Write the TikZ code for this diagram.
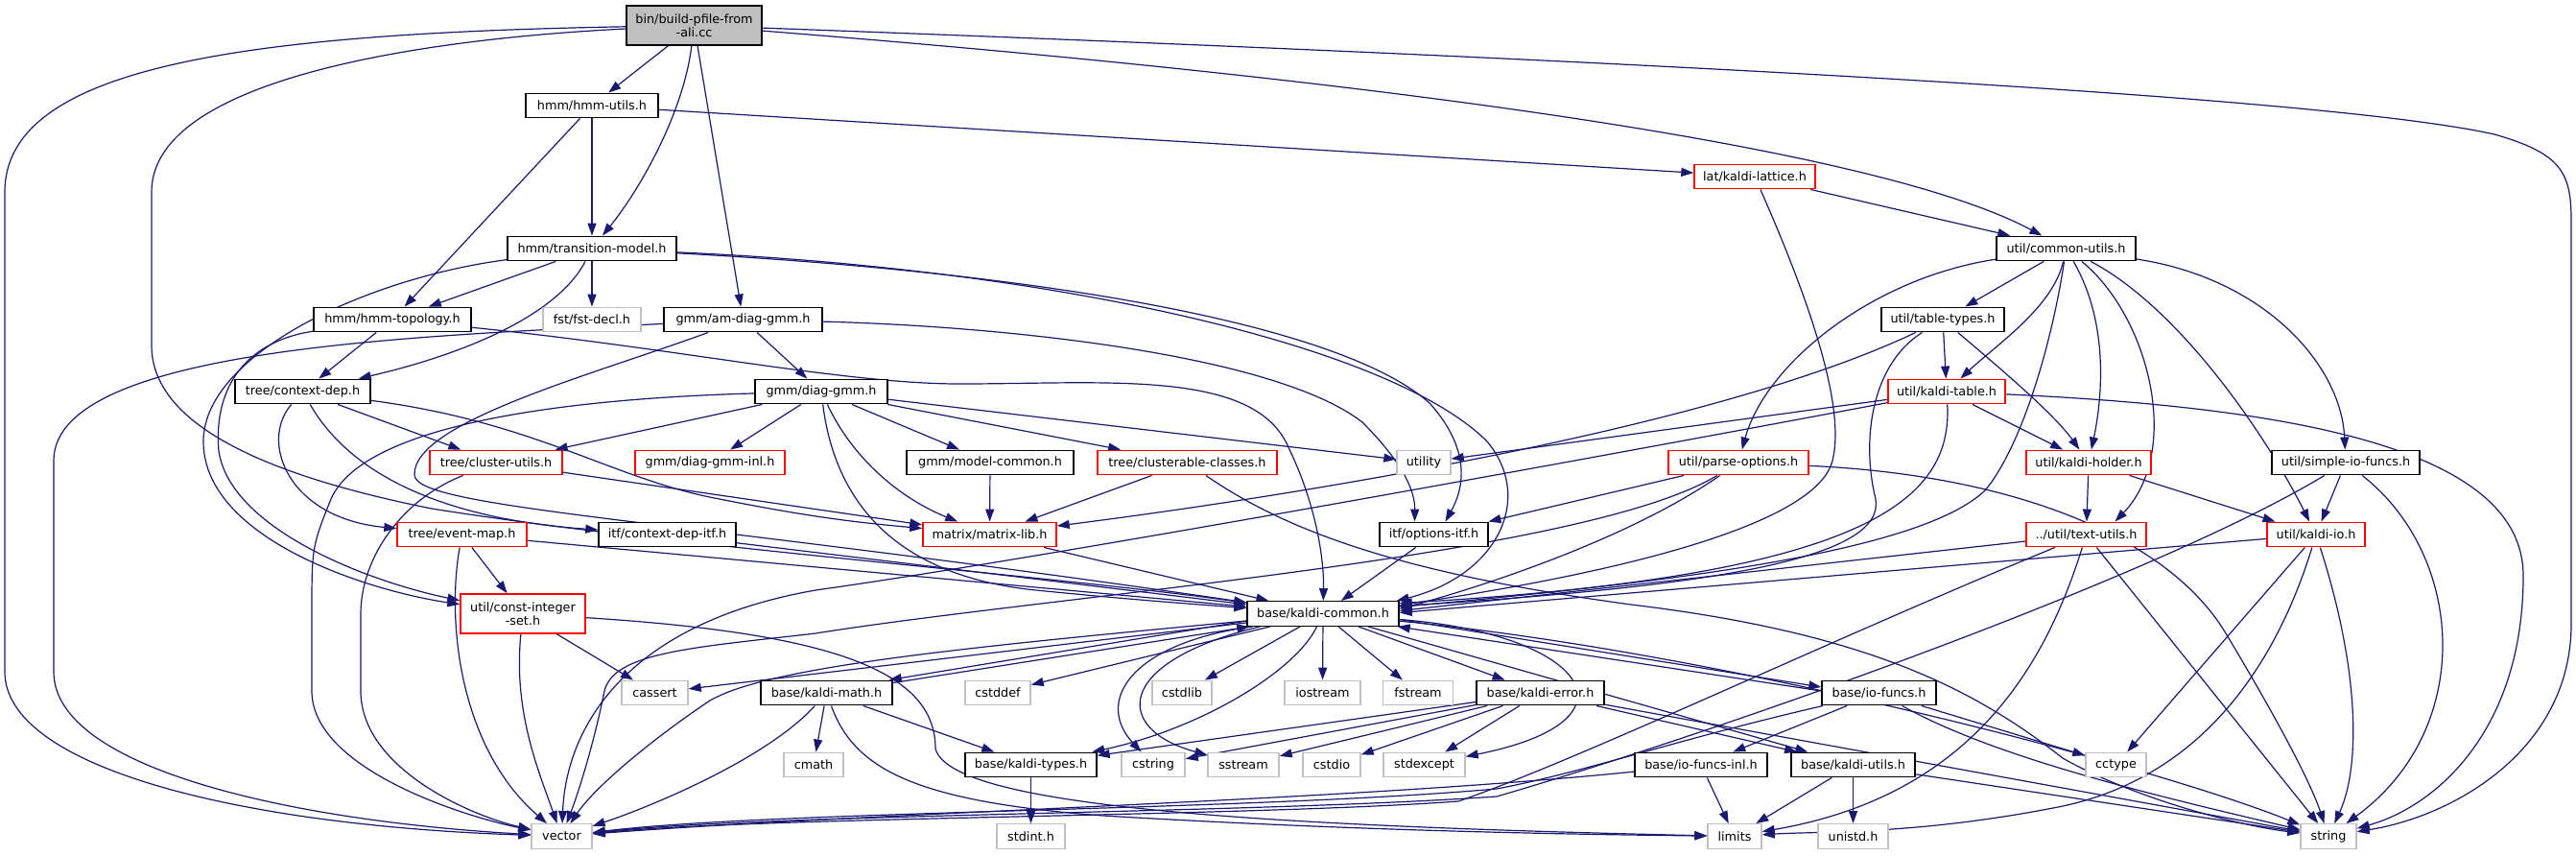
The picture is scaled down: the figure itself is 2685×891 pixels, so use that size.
\documentclass[tikz,border=0pt]{standalone}
\usepackage{fontspec}
\setmainfont{DejaVu Sans}
\usetikzlibrary{arrows.meta,calc}
\definecolor{edgec}{HTML}{191970}
\definecolor{grayb}{HTML}{BFBFBF}
\pgfdeclarelayer{bg}
\pgfsetlayers{bg,main}
\begin{document}
\begin{tikzpicture}[x=0.5pt,y=-0.5pt,
  box/.style={rectangle, fill=white, line width=0.7pt, inner sep=1pt, minimum height=12.75pt, font=\fontsize{6.4}{7.2}\selectfont, align=center, text=black},
  nb/.style={box, draw=black},
  nr/.style={box, draw=red},
  ng/.style={box, draw=grayb},
  dep/.style={draw=edgec, line width=0.6pt, -{Triangle[length=6.5pt,width=4.5pt]}},
]
\useasboundingbox (0,0) rectangle (2685,891);
% nodes
\node[nb, fill=grayb, minimum width=70.5pt, minimum height=20.5pt] (bin) at (723.5,26.5) {bin/build-pfile-from\\-ali.cc};
\node[nb, minimum width=69pt] (hmmutils) at (617,110) {hmm/hmm-utils.h};
\node[nr, minimum width=63pt] (lattice) at (1829,184) {lat/kaldi-lattice.h};
\node[nb, minimum width=72.5pt] (common) at (2153.5,259) {util/common-utils.h};
\node[nb, minimum width=88pt] (transition) at (617,259) {hmm/transition-model.h};
\node[nb, minimum width=82pt] (topology) at (409,333) {hmm/hmm-topology.h};
\node[ng, minimum width=51pt] (fstdecl) at (617,333) {fst/fst-decl.h};
\node[nb, minimum width=82.5pt] (amdiag) at (774.5,333) {gmm/am-diag-gmm.h};
\node[nb, minimum width=64pt] (tabletypes) at (2025,333) {util/table-types.h};
\node[nb, minimum width=70.5pt] (contextdep) at (315.5,408) {tree/context-dep.h};
\node[nb, minimum width=69pt] (diaggmm) at (856,408) {gmm/diag-gmm.h};
\node[nr, minimum width=61pt] (kalditable) at (2029,408) {util/kaldi-table.h};
\node[nr, minimum width=69pt] (clusterutils) at (517,482) {tree/cluster-utils.h};
\node[nr, minimum width=78pt] (diaggmminl) at (740,482) {gmm/diag-gmm-inl.h};
\node[nb, minimum width=87pt] (modelcommon) at (1032,482) {gmm/model-common.h};
\node[nr, minimum width=93.5pt] (clusterable) at (1237.5,482) {tree/clusterable-classes.h};
\node[ng, minimum width=28pt] (utility) at (1484,482) {utility};
\node[nr, minimum width=73pt] (parseoptions) at (1812,482) {util/parse-options.h};
\node[nr, minimum width=65pt] (kaldiholder) at (2177,482) {util/kaldi-holder.h};
\node[nb, minimum width=77pt] (simpleio) at (2445,482) {util/simple-io-funcs.h};
\node[nr, minimum width=67.5pt] (eventmap) at (481.5,557) {tree/event-map.h};
\node[nb, minimum width=71.5pt] (contextdepitf) at (695.5,557) {itf/context-dep-itf.h};
\node[nr, minimum width=69.5pt] (matrixlib) at (1031.5,557) {matrix/matrix-lib.h};
\node[nb, minimum width=56.5pt] (optionsitf) at (1494.5,557) {itf/options-itf.h};
\node[nr, minimum width=62.5pt] (textutils) at (2174.5,557) {../util/text-utils.h};
\node[nr, minimum width=51pt] (kaldiio) at (2414,557) {util/kaldi-io.h};
\node[nr, minimum width=65pt, minimum height=20.5pt] (constint) at (545,639.5) {util/const-integer\\-set.h};
\node[nb, minimum width=79pt] (kaldicommon) at (1379,639.5) {base/kaldi-common.h};
\node[ng, minimum width=34.5pt] (cassert) at (682.5,722) {cassert};
\node[nb, minimum width=68.5pt] (kaldimath) at (861.5,722) {base/kaldi-math.h};
\node[ng, minimum width=34pt] (cstddef) at (1040,722) {cstddef};
\node[ng, minimum width=31pt] (cstdlib) at (1232,722) {cstdlib};
\node[ng, minimum width=39.5pt] (iostream) at (1378.5,722) {iostream};
\node[ng, minimum width=36.5pt] (fstream) at (1478,722) {fstream};
\node[nb, minimum width=66.5pt] (kaldierror) at (1605.5,722) {base/kaldi-error.h};
\node[nb, minimum width=59.5pt] (iofuncs) at (1958.5,722) {base/io-funcs.h};
\node[nb, minimum width=68.5pt] (kalditypes) at (1074.5,797) {base/kaldi-types.h};
\node[ng, minimum width=33pt] (cstring) at (1202,797) {cstring};
\node[ng, minimum width=37pt] (sstream) at (1296,797) {sstream};
\node[ng, minimum width=30pt] (cstdio) at (1388,797) {cstdio};
\node[ng, minimum width=42.5pt] (stdexcept) at (1484.5,797) {stdexcept};
\node[nb, minimum width=69pt] (iofuncsinl) at (1773,797) {base/io-funcs-inl.h};
\node[nb, minimum width=64.5pt] (kaldiutils) at (1931.5,797) {base/kaldi-utils.h};
\node[ng, minimum width=31.5pt] (cctype) at (2205.5,797) {cctype};
\node[ng, minimum width=31pt] (cmath) at (848,797) {cmath};
\node[ng, minimum width=31.5pt] (vector) at (585.5,871.5) {vector};
\node[ng, minimum width=35.5pt] (stdint) at (1074.5,871.5) {stdint.h};
\node[ng, minimum width=28pt] (limits) at (1808,871.5) {limits};
\node[ng, minimum width=36.5pt] (unistd) at (1931.5,871.5) {unistd.h};
\node[ng, minimum width=29pt] (string) at (2427,871.5) {string};

\begin{pgfonlayer}{bg}
\fill[white] (0,0) rectangle (2685,891);
% bin
\draw[dep] (bin) -- (hmmutils);
\draw[dep] (bin) .. controls (712,120) and (665,200) .. (transition);
\draw[dep] (bin) -- (amdiag);
\draw[dep] (bin) .. controls (1400,80) and (1950,150) .. (common);
\draw[dep] (bin) .. controls (1500,55) and (2400,95) .. (2600,140) .. controls (2670,160) and (2680,180) .. (2680,230) -- (2680,650) .. controls (2680,780) and (2560,850) .. (string);
\draw[dep] (bin) .. controls (250,35) and (5,70) .. (5,200) -- (5,700) .. controls (5,800) and (250,860) .. (vector);
\draw[dep] (bin) .. controls (450,40) and (158,80) .. (158,200) -- (158,360) .. controls (158,450) and (300,500) .. (450,530) .. controls (700,570) and (1100,600) .. (kaldicommon);
% hmm-utils
\draw[dep] (hmmutils) -- (topology);
\draw[dep] (hmmutils) -- (transition);
\draw[dep] (hmmutils) -- (lattice);
% lattice
\draw[dep] (lattice) -- (common);
\draw[dep] (lattice) .. controls (1880,300) and (1925,420) .. (1910,480) .. controls (1890,560) and (1600,610) .. ($(kaldicommon.east)+(0,-9)$);
% common-utils
\draw[dep] (common) -- (tabletypes);
\draw[dep] (common) .. controls (2140,320) and (2080,360) .. (kalditable);
\draw[dep] (common) .. controls (2140,350) and (2110,460) .. (2070,510) .. controls (2000,580) and (1700,610) .. ($(kaldicommon.east)+(0,-7)$);
\draw[dep] (common) .. controls (1950,290) and (1840,380) .. (parseoptions);
\draw[dep] (common) .. controls (2200,340) and (2190,420) .. (kaldiholder);
\draw[dep] (common) .. controls (2240,330) and (2275,470) .. ($(textutils.north)+(30,0)$);
\draw[dep] (common) .. controls (2270,320) and (2360,450) .. (kaldiio);
\draw[dep] (common) .. controls (2360,290) and (2440,380) .. (simpleio);
% transition-model
\draw[dep] (transition) -- (topology);
\draw[dep] (transition) -- (fstdecl);
\draw[dep] (transition) .. controls (580,330) and (480,370) .. (contextdep);
\draw[dep] (transition) .. controls (380,290) and (212,370) .. (212,460) .. controls (212,560) and (380,615) .. (constint);
\draw[dep] (transition) .. controls (1100,280) and (1450,360) .. (1550,460) .. controls (1600,520) and (1560,600) .. ($(kaldicommon.north east)+(-3,0)$);
\draw[dep] (transition) .. controls (1100,285) and (1400,340) .. (1490,420) .. controls (1535,470) and (1525,510) .. ($(optionsitf.north)+(12,0)$);
% hmm-topology
\draw[dep] (topology) -- (contextdep);
\draw[dep] (topology) .. controls (700,362) and (880,400) .. (1000,400) .. controls (1150,400) and (1300,385) .. (1340,460) .. controls (1375,530) and (1380,590) .. (kaldicommon);
\draw[dep] (topology) .. controls (260,355) and (222,400) .. (228,470) .. controls (240,550) and (380,605) .. (constint);
% am-diag-gmm
\draw[dep] (amdiag) -- (diaggmm);
\draw[dep] (amdiag) .. controls (1050,340) and (1330,370) .. (1420,440) .. controls (1460,480) and (1475,510) .. ($(optionsitf.north)+(-20,0)$);
\draw[dep] (amdiag) .. controls (450,350) and (56,360) .. (56,480) -- (56,700) .. controls (56,800) and (300,855) .. (vector);
\draw[dep] (amdiag) .. controls (620,390) and (430,440) .. (432,495) .. controls (434,530) and (700,540) .. (kaldicommon);
% diag-gmm
\draw[dep] (diaggmm) -- (clusterutils);
\draw[dep] (diaggmm) -- (diaggmminl);
\draw[dep] (diaggmm) -- (modelcommon);
\draw[dep] (diaggmm) -- (clusterable);
\draw[dep] (diaggmm) -- (utility);
\draw[dep] (diaggmm) .. controls (890,480) and (940,520) .. (matrixlib);
\draw[dep] (diaggmm) .. controls (870,520) and (930,600) .. (1080,615) .. controls (1180,625) and (1250,630) .. (kaldicommon);
\draw[dep] (diaggmm) .. controls (600,415) and (380,440) .. (345,520) .. controls (325,570) .. (325,640) -- (325,720) .. controls (325,800) and (480,850) .. (vector);
% context-dep
\draw[dep] (contextdep) -- (clusterutils);
\draw[dep] (contextdep) .. controls (270,460) and (300,540) .. (eventmap);
\draw[dep] (contextdep) .. controls (380,520) and (520,545) .. (contextdepitf);
\draw[dep] (contextdep) .. controls (560,440) and (640,500) .. (750,520) .. controls (850,540) and (900,545) .. (matrixlib);
% cluster-utils
\draw[dep] (clusterutils) -- (matrixlib);
\draw[dep] (clusterutils) .. controls (420,520) and (376,580) .. (376,640) -- (376,720) .. controls (376,800) and (490,850) .. (vector);
% clusterable-classes
\draw[dep] (clusterable) -- (matrixlib);
\draw[dep] (clusterable) .. controls (1350,560) and (1480,600) .. (1700,630) .. controls (1950,660) and (2060,720) .. (2150,790) .. controls (2220,830) and (2330,860) .. (string);
% model-common
\draw[dep] (modelcommon) -- (matrixlib);
% parse-options
\draw[dep] (parseoptions) -- (optionsitf);
\draw[dep] (parseoptions) .. controls (1700,560) and (1550,610) .. ($(kaldicommon.east)+(0,-5)$);
\draw[dep] (parseoptions) .. controls (1650,580) and (1100,620) .. (850,660) .. controls (720,675) and (640,680) .. (630,720) .. controls (620,770) and (605,820) .. (vector);
\draw[dep] (parseoptions) .. controls (2100,495) and (2260,560) .. (2320,660) .. controls (2380,760) and (2410,820) .. (string);
% kaldi-holder
\draw[dep] (kaldiholder) -- (textutils);
\draw[dep] (kaldiholder) -- (kaldiio);
% simple-io-funcs
\draw[dep] (simpleio) -- (kaldiio);
\draw[dep] (simpleio) .. controls (2570,580) and (2580,760) .. (string);
\draw[dep] (simpleio) .. controls (2250,600) and (1800,760) .. (1560,830) .. controls (1300,848) and (800,848) .. (vector);
% event-map
\draw[dep] (eventmap) -- (constint);
\draw[dep] (eventmap) .. controls (465,650) and (480,780) .. (vector);
\draw[dep] (eventmap) -- (kaldicommon);
% context-dep-itf, matrix-lib, options-itf
\draw[dep] (contextdepitf) -- (kaldicommon);
\draw[dep] (matrixlib) -- (kaldicommon);
\draw[dep] (optionsitf) -- (kaldicommon);
% text-utils
\draw[dep] (textutils) -- ($(kaldicommon.east)+(0,-3)$);
\draw[dep] (textutils) .. controls (1900,670) and (1650,790) .. (1520,835) .. controls (1300,851) and (800,851) .. (vector);
\draw[dep] (textutils) .. controls (2130,700) and (2050,830) .. (limits);
\draw[dep] (textutils) -- (string);
% kaldi-io
\draw[dep] (kaldiio) -- ($(kaldicommon.east)+(0,-1)$);
\draw[dep] (kaldiio) -- (cctype);
\draw[dep] (kaldiio) .. controls (2370,700) and (2290,810) .. (2150,840) .. controls (2000,870) and (1900,866) .. (limits);
\draw[dep] (kaldiio) .. controls (2460,700) and (2460,800) .. (string);
% const-integer-set
\draw[dep] (constint) -- (cassert);
\draw[dep] (constint) .. controls (535,740) and (560,800) .. (vector);
\draw[dep] (constint) .. controls (870,660) and (975,700) .. (975,780) .. controls (990,840) and (1300,860) .. (limits);
% kaldi-table
\draw[dep] (kalditable) -- (kaldiholder);
\draw[dep] (kalditable) -- (utility);
\draw[dep] (kalditable) .. controls (1700,470) and (1100,580) .. (850,615) .. controls (650,650) and (590,760) .. (vector);
\draw[dep] (kalditable) .. controls (2035,520) and (1950,600) .. ($(kaldicommon.east)+(0,-11)$);
\draw[dep] (kalditable) .. controls (2400,425) and (2630,470) .. (2630,600) .. controls (2630,760) and (2540,840) .. (string);
% table-types
\draw[dep] (tabletypes) -- (kalditable);
\draw[dep] (tabletypes) .. controls (2080,380) and (2140,430) .. (kaldiholder);
\draw[dep] (tabletypes) .. controls (1800,440) and (1400,510) .. (matrixlib);
\draw[dep] (tabletypes) .. controls (1950,380) and (1940,460) .. (1955,520) .. controls (1965,580) and (1800,610) .. ($(kaldicommon.east)+(0,-8)$);
% kaldi-common
\draw[dep] (kaldicommon) -- (cassert);
\draw[dep] ($(kaldicommon.south west)+(0,-6)$) -- ($(kaldimath.north east)+(-4,0)$);
\draw[dep] ($(kaldimath.north east)+(0,3)$) -- ($(kaldicommon.south west)+(3,0)$);
\draw[dep] (kaldicommon) -- (cstddef);
\draw[dep] (kaldicommon) -- (cstdlib);
\draw[dep] (kaldicommon) -- (iostream);
\draw[dep] (kaldicommon) -- (fstream);
\draw[dep] (kaldicommon) -- (kaldierror);
\draw[dep] (kaldicommon) .. controls (1350,700) and (1250,760) .. (kalditypes);
\draw[dep] ($(kaldicommon.south west)+(6,0)$) .. controls (1180,670) and (1140,730) .. (cstring);
\draw[dep] ($(kaldicommon.south west)+(14,0)$) .. controls (1160,690) and (1160,760) .. (sstream);
\draw[dep] (kaldicommon) .. controls (1650,660) and (1720,750) .. (stdexcept);
\draw[dep] (kaldicommon) .. controls (1800,680) and (2250,800) .. (string);
\draw[dep] (kaldicommon) .. controls (1000,675) and (800,695) .. (740,730) .. controls (680,770) and (620,820) .. (vector);
\draw[dep] ($(kaldicommon.east)+(0,6)$) -- ($(iofuncs.west)+(0,-6)$);
\draw[dep] ($(iofuncs.west)+(0,-2)$) -- ($(kaldicommon.south east)+(-2,0)$);
\draw[dep] (kaldicommon) -- (kaldiutils);
% kaldi-math
\draw[dep] (kaldimath) -- (cmath);
\draw[dep] (kaldimath) .. controls (800,790) and (680,840) .. (vector);
\draw[dep] (kaldimath) -- (kalditypes);
\draw[dep] (kaldimath) .. controls (890,800) and (950,835) .. (1150,850) .. controls (1450,868) and (1700,870) .. (limits);
% kaldi-error
\draw[dep] (kaldierror) -- (kalditypes);
\draw[dep] (kaldierror) -- (cstring);
\draw[dep] (kaldierror) -- (sstream);
\draw[dep] (kaldierror) -- (cstdio);
\draw[dep] (kaldierror) -- (stdexcept);
\draw[dep] (kaldierror) -- (kaldiutils);
\draw[dep] (kaldierror) -- (string);
% io-funcs
\draw[dep] (iofuncs) -- (iofuncsinl);
\draw[dep] (iofuncs) -- (cctype);
\draw[dep] (iofuncs) .. controls (2080,790) and (2250,830) .. (string);
\draw[dep] (iofuncs) .. controls (1750,770) and (1650,805) .. (1560,822) .. controls (1300,845) and (800,845) .. (vector);
% io-funcs-inl
\draw[dep] (iofuncsinl) -- (limits);
\draw[dep] (iofuncsinl) .. controls (1400,835) and (900,847) .. (vector);
% kaldi-utils
\draw[dep] (kaldiutils) -- (limits);
\draw[dep] (kaldiutils) -- (unistd);
\draw[dep] (kaldiutils) -- (string);
% kaldi-types
\draw[dep] (kalditypes) -- (stdint);
\end{pgfonlayer}
\end{tikzpicture}
\end{document}
